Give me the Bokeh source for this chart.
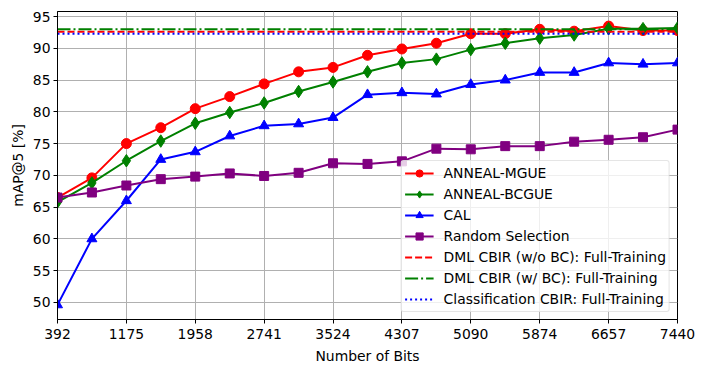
from bokeh.plotting import figure
from bokeh.models import Range1d, FixedTicker, Legend
from bokeh.embed import file_html
from bokeh.resources import INLINE

bits = [392, 783, 1175, 1566, 1958, 2350, 2741, 3133, 3524, 3916, 4307,
        4699, 5090, 5482, 5874, 6265, 6657, 7048, 7440]
anneal_mgue = [66.5, 69.6, 75.0, 77.5, 80.5, 82.4, 84.4, 86.3, 87.0, 88.9, 89.9,
               90.8, 92.3, 92.3, 93.0, 92.7, 93.5, 92.8, 92.8]
anneal_bcgue = [65.8, 68.8, 72.3, 75.4, 78.2, 79.9, 81.4, 83.2, 84.7, 86.3, 87.7,
                88.3, 89.8, 90.8, 91.6, 92.1, 93.1, 93.1, 93.2]
cal = [49.6, 60.0, 66.0, 72.5, 73.7, 76.2, 77.8, 78.1, 79.1, 82.7, 83.0,
       82.8, 84.3, 85.0, 86.2, 86.2, 87.7, 87.5, 87.7]
random_sel = [66.5, 67.3, 68.4, 69.4, 69.8, 70.3, 69.9, 70.4, 71.9, 71.8, 72.2,
              74.2, 74.1, 74.6, 74.6, 75.3, 75.6, 76.0, 77.2]
dml_wo_bc = 92.6
dml_w_bc = 93.0
cls_cbir = 92.3

x_ticks = [392, 1175, 1958, 2741, 3524, 4307, 5090, 5874, 6657, 7440]
x_tick_labels = ["392", "1175", "1958", "2741", "3524", "4307", "5090", "5874", "6657", "7440"]
y_ticks = [50, 55, 60, 65, 70, 75, 80, 85, 90, 95]

FONT = "DejaVu Sans"
FS = "13.9px"

p = figure(width=704, height=372, output_backend="svg", toolbar_location=None,
           x_range=Range1d(bits[0], bits[-1]), y_range=Range1d(47.3, 95.8),
           min_border_left=57, min_border_right=27, min_border_top=11, min_border_bottom=53)
p.background_fill_color = "white"
p.border_fill_color = "white"
p.outline_line_color = "black"
p.outline_line_width = 1
p.outline_line_alpha = 1

p.xaxis.ticker = FixedTicker(ticks=x_ticks)
p.xaxis.major_label_overrides = {t: l for t, l in zip(x_ticks, x_tick_labels)}
p.yaxis.ticker = FixedTicker(ticks=y_ticks)
p.xaxis.axis_label = "Number of Bits"
p.yaxis.axis_label = "mAP@5 [%]"
for ax in (p.xaxis[0], p.yaxis[0]):
    ax.axis_label_text_font = FONT
    ax.axis_label_text_font_size = FS
    ax.axis_label_text_font_style = "normal"
    ax.axis_label_text_color = "black"
    ax.major_label_text_font = FONT
    ax.major_label_text_font_size = FS
    ax.major_label_text_color = "black"
    ax.major_tick_out = 4
    ax.major_tick_in = 0
    ax.minor_tick_out = 0
    ax.minor_tick_in = 0
    ax.axis_line_color = "black"
    ax.major_tick_line_color = "black"
    ax.major_label_standoff = 3
    ax.axis_label_standoff = 4
p.xaxis.major_label_standoff = 5
p.xaxis.axis_label_standoff = 6

p.grid.grid_line_color = "#b0b0b0"
p.grid.grid_line_width = 1

series = [
    ("ANNEAL-MGUE", anneal_mgue, "red", "circle", 10),
    ("ANNEAL-BCGUE", anneal_bcgue, "green", "diamond", 12.5),
    ("CAL", cal, "blue", "triangle", 10),
    ("Random Selection", random_sel, "purple", "square", 9),
]
items = []
for name, ys, color, marker, size in series:
    l = p.line(bits, ys, line_color=color, line_width=2)
    s = p.scatter(bits, ys, marker=marker, size=size, fill_color=color, line_color=color)
    items.append((name, [l, s]))

hlines = [
    ("DML CBIR (w/o BC): Full-Training", dml_wo_bc, "red", "7 3"),
    ("DML CBIR (w/ BC): Full-Training", dml_w_bc, "green", "13 3 2 3"),
    ("Classification CBIR: Full-Training", cls_cbir, "blue", "2 3"),
]
for name, v, color, dash in hlines:
    l = p.line([bits[0], bits[-1]], [v, v], line_color=color, line_width=2, line_dash=dash)
    items.append((name, [l]))

legend = Legend(items=items, location="bottom_right")
legend.label_text_font = FONT
legend.label_text_font_size = FS
legend.label_text_color = "black"
legend.border_line_color = "#cccccc"
legend.border_line_width = 1
legend.border_radius = 3
legend.background_fill_alpha = 0.8
legend.margin = 7
legend.padding = 3
legend.spacing = 3
legend.label_height = 18
legend.glyph_height = 18
legend.glyph_width = 29
legend.label_standoff = 10
p.add_layout(legend)

open("out.html", "w").write(file_html(p, INLINE))
